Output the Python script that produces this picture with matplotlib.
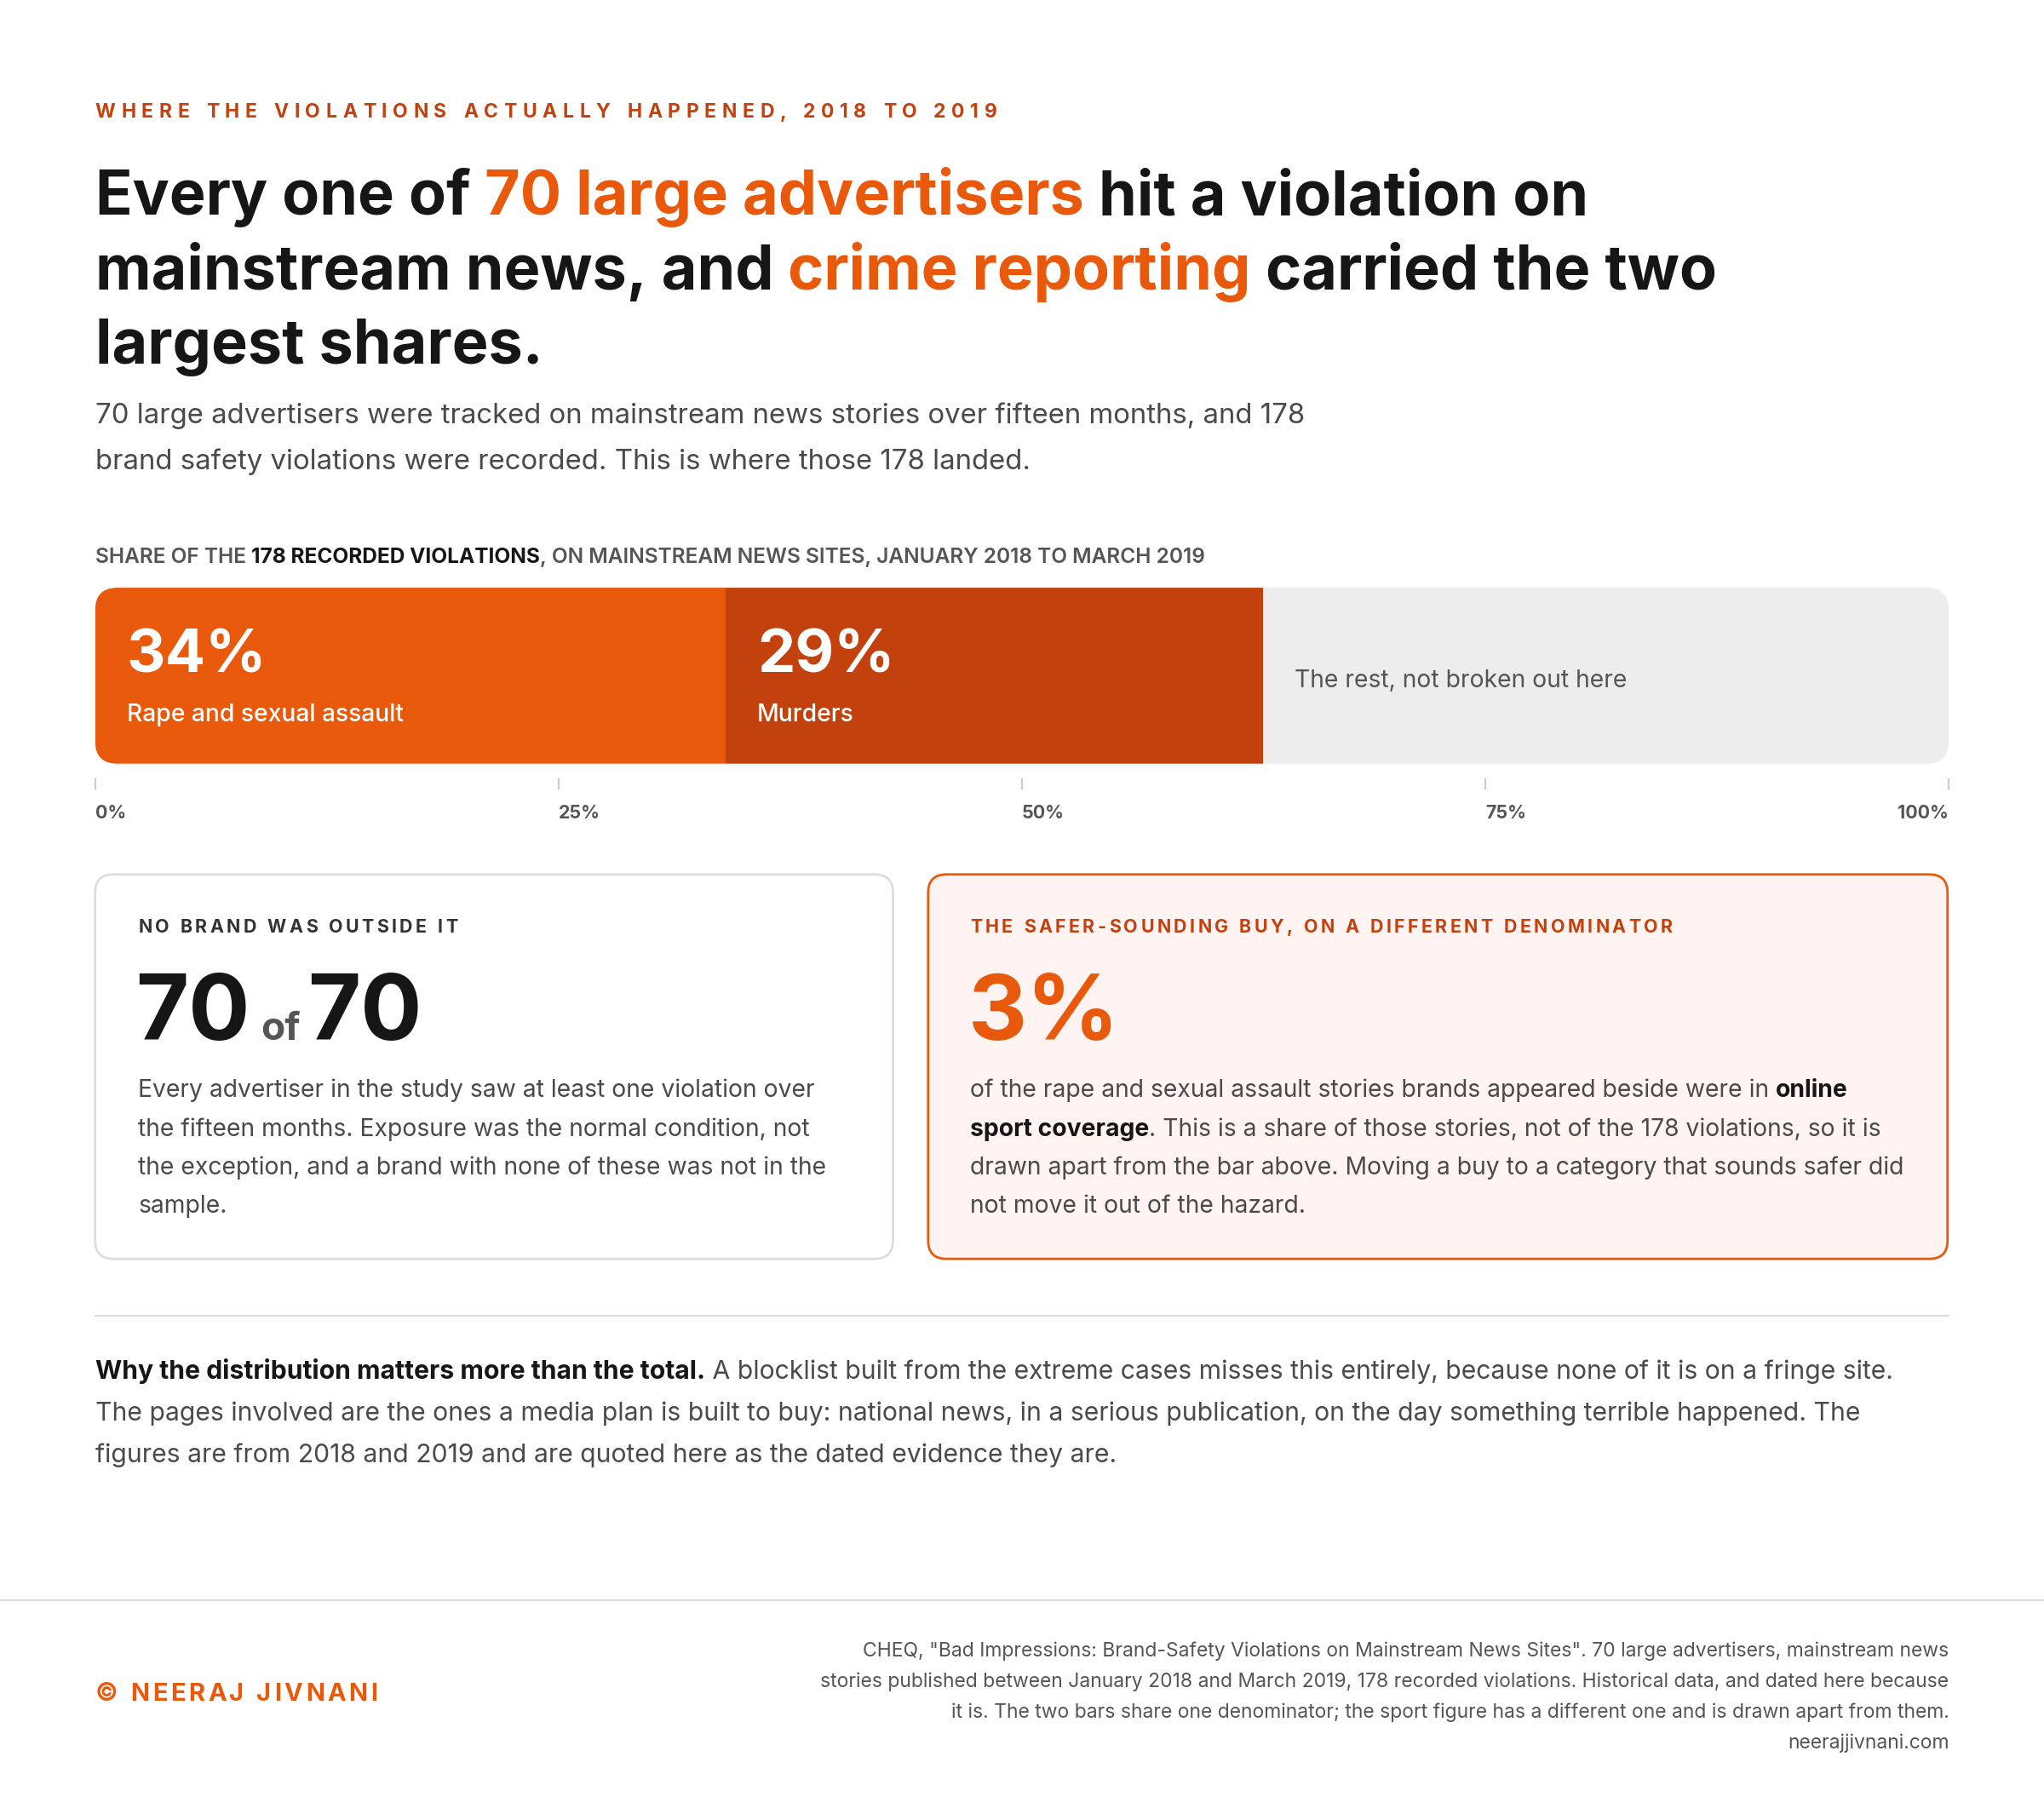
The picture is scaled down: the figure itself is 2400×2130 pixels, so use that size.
import matplotlib
matplotlib.use("Agg")
import matplotlib.pyplot as plt
from matplotlib.patches import FancyBboxPatch

# ---- data ----
shares = [34, 29, 37]
share_labels = ["Rape and sexual assault", "Murders", "The rest, not broken out here"]
share_colors = ["#E8590C", "#C2410C", "#EDEDED"]
ticks = [0, 25, 50, 75, 100]
brands_hit, brands_total = 70, 70
sport_share = 3

ORANGE, DARK, INK, GREY = "#E8590C", "#C2410C", "#161616", "#4a4a4a"
W, H = 1568, 1392  # layout units (px of the reference view)
plt.rcParams["font.family"] = ["Inter", "DejaVu Sans"]

fig = plt.figure(figsize=(12, 10.65), dpi=200)
fig.patch.set_facecolor("white")
ov = fig.add_axes([0, 0, 1, 1])
ov.set_xlim(0, W)
ov.set_ylim(H, 0)
ov.axis("off")
R = fig.canvas.get_renderer()
SX = fig.bbox.width / W
FS = 72 / 200 * fig.bbox.width / W  # layout px -> points


def runs(x, y, parts, size, va="baseline"):
    for txt, color, weight in parts:
        t = ov.text(x, y, txt, color=color, fontsize=size * FS, fontweight=weight, va=va)
        x += t.get_window_extent(R).width / SX
    return x


def spaced(x, y, txt, size, color, weight="bold", track=0.18, va="center"):
    for ch in txt:
        t = ov.text(x, y, ch, color=color, fontsize=size * FS, fontweight=weight, va=va)
        w = t.get_window_extent(R).width / SX if ch != " " else size * 0.28
        x += w + size * track
    return x


# kicker + headline
spaced(73, 86, "WHERE THE VIOLATIONS ACTUALLY HAPPENED, 2018 TO 2019", 15, DARK, track=0.29)
HS = 47
runs(73, 165, [("Every one of ", INK, "bold"), ("70 large advertisers", ORANGE, "bold"),
               (" hit a violation on", INK, "bold")], HS)
runs(73, 222, [("mainstream news, and ", INK, "bold"), ("crime reporting", ORANGE, "bold"),
               (" carried the two", INK, "bold")], HS)
runs(73, 279, [("largest shares.", INK, "bold")], HS)
ov.text(73, 325, "70 large advertisers were tracked on mainstream news stories over fifteen months, and 178",
        fontsize=21.5 * FS, color=GREY)
ov.text(73, 360, "brand safety violations were recorded. This is where those 178 landed.",
        fontsize=21.5 * FS, color=GREY)

runs(73, 432, [("SHARE OF THE ", "#555555", "semibold"), ("178 RECORDED VIOLATIONS", INK, "bold"),
               (", ON MAINSTREAM NEWS SITES, JANUARY 2018 TO MARCH 2019", "#555555", "semibold")], 16)

# stacked bar
bx0, bx1, by0, by1 = 73, 1495, 451, 586
ax = fig.add_axes([bx0 / W, 1 - by1 / H, (bx1 - bx0) / W, (by1 - by0) / H])
left = 0
bars = []
for v, c in zip(shares, share_colors):
    ax.barh(0, v, left=left, color=c, height=1, edgecolor="none")
    bars.append((left, v))
    left += v
ax.set_xlim(0, 100)
ax.set_ylim(-0.5, 0.5)
ax.axis("off")
clip = FancyBboxPatch((0, 0), 1, 1, boxstyle="round,pad=0,rounding_size=0.012",
                      transform=ax.transAxes, facecolor="none", edgecolor="none",
                      mutation_aspect=(bx1 - bx0) / (by1 - by0))
ax.add_patch(clip)
for p in ax.patches:
    p.set_clip_path(clip)
for i, ((l, v), lab) in enumerate(zip(bars, share_labels)):
    if i < 2:
        ax.text(l + 1.7, 0.02, f"{v}%", color="white", fontsize=46 * FS, fontweight="bold", va="baseline")
        ax.text(l + 1.7, -0.26, lab, color="white", fontsize=18.5 * FS, fontweight="medium", va="baseline")
    else:
        ax.text(l + 1.7, -0.03, lab, color="#555555", fontsize=18.5 * FS, va="center")

for tk in ticks:
    x = bx0 + (bx1 - bx0) * tk / 100
    ov.plot([x, x], [598, 605], color="#cccccc", lw=0.8)
    ov.text(x, 628, f"{tk}%", ha="right" if tk == 100 else "left", fontsize=14 * FS,
            fontweight="bold", color="#555555")

# cards
ov.add_patch(FancyBboxPatch((73, 671), 612, 295, boxstyle="round,pad=0,rounding_size=14",
                            facecolor="white", edgecolor="#dddddd", lw=1))
ov.add_patch(FancyBboxPatch((712, 671), 782, 295, boxstyle="round,pad=0,rounding_size=14",
                            facecolor="#FFF4F1", edgecolor=ORANGE, lw=1))
spaced(106, 712, "NO BRAND WAS OUTSIDE IT", 14, "#333333", track=0.16)
spaced(744, 712, "THE SAFER-SOUNDING BUY, ON A DIFFERENT DENOMINATOR", 14, DARK, track=0.16)
x = runs(104, 798, [(str(brands_hit), INK, "bold")], 70)
x = runs(x + 8, 798, [("of", "#555555", "bold")], 30)
runs(x + 6, 798, [(str(brands_total), INK, "bold")], 70)
runs(743, 798, [(f"{sport_share}%", ORANGE, "bold")], 70)

BS = 18.5
body1 = ["Every advertiser in the study saw at least one violation over",
         "the fifteen months. Exposure was the normal condition, not",
         "the exception, and a brand with none of these was not in the",
         "sample."]
for i, ln in enumerate(body1):
    ov.text(106, 842 + i * 29.5, ln, fontsize=BS * FS, color=GREY)
runs(744, 842, [("of the rape and sexual assault stories brands appeared beside were in ", GREY, "normal"),
                ("online", INK, "bold")], BS)
runs(744, 871.5, [("sport coverage", INK, "bold"),
                  (". This is a share of those stories, not of the 178 violations, so it is", GREY, "normal")], BS)
ov.text(744, 901, "drawn apart from the bar above. Moving a buy to a category that sounds safer did",
        fontsize=BS * FS, color=GREY)
ov.text(744, 930.5, "not move it out of the hazard.", fontsize=BS * FS, color=GREY)

ov.plot([73, 1495], [1010, 1010], color="#dddddd", lw=0.8)
PS = 19.7
runs(73, 1058, [("Why the distribution matters more than the total.", INK, "bold"),
                (" A blocklist built from the extreme cases misses this entirely, because none of it is on a fringe site.",
                 GREY, "normal")], PS)
ov.text(73, 1090, "The pages involved are the ones a media plan is built to buy: national news, in a serious publication, on the day something terrible happened. The",
        fontsize=PS * FS, color=GREY)
ov.text(73, 1122, "figures are from 2018 and 2019 and are quoted here as the dated evidence they are.",
        fontsize=PS * FS, color=GREY)

# footer
ov.plot([0, W], [1228, 1228], color="#dddddd", lw=0.8)
spaced(73, 1300, "© NEERAJ JIVNANI", 19, ORANGE, track=0.12)
foot = ['CHEQ, "Bad Impressions: Brand-Safety Violations on Mainstream News Sites". 70 large advertisers, mainstream news',
        "stories published between January 2018 and March 2019, 178 recorded violations. Historical data, and dated here because",
        "it is. The two bars share one denominator; the sport figure has a different one and is drawn apart from them.",
        "neerajjivnani.com"]
for i, ln in enumerate(foot):
    ov.text(1495, 1271 + i * 23.5, ln, ha="right", fontsize=15 * FS, color="#555555")

fig.savefig("out.png", dpi=200, facecolor="white")
